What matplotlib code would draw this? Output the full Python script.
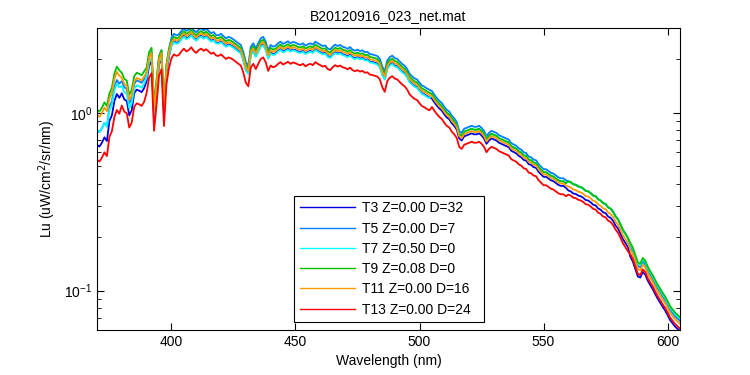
import numpy as np
import matplotlib
matplotlib.use("Agg")
import matplotlib.pyplot as plt

plt.rcParams['font.family'] = ['Liberation Sans', 'DejaVu Sans']

title = "B20120916_023_net.mat"
xlabel = "Wavelength (nm)"
ylabel = "Lu (uW/cm$^2$/sr/nm)"

# wavelength grid (nm), 1 nm steps
wavelength = np.arange(370, 606)

# reference spectrum (T11, orange)
base_t11 = [
    0.97, 0.95, 1.00, 1.07, 1.02, 1.20, 1.29, 1.55, 1.70, 1.62,   # 370-379
    1.57, 1.45, 1.42, 1.18, 1.26, 1.50, 1.57, 1.55, 1.52, 1.60,   # 380-389
    1.68, 2.05, 2.17, 1.03, 1.44, 2.00, 2.17, 1.04, 1.79, 2.20,   # 390-399
    2.47, 2.60, 2.55, 2.58, 2.70, 2.80, 2.70, 2.75, 2.85, 2.72,   # 400-409
    2.65, 2.75, 2.80, 2.72, 2.78, 2.70, 2.62, 2.66, 2.56, 2.55,   # 410-419
    2.60, 2.52, 2.45, 2.50, 2.47, 2.42, 2.36, 2.30, 2.25, 2.05,   # 420-429
    1.80, 1.72, 2.20, 2.30, 2.15, 2.30, 2.45, 2.50, 2.35, 2.10,   # 430-439
    2.25, 2.20, 2.23, 2.30, 2.35, 2.28, 2.32, 2.36, 2.30, 2.34,   # 440-449
    2.32, 2.28, 2.26, 2.30, 2.23, 2.27, 2.30, 2.26, 2.35, 2.30,   # 450-459
    2.26, 2.22, 2.24, 2.15, 2.12, 2.20, 2.26, 2.22, 2.25, 2.20,   # 460-469
    2.18, 2.14, 2.19, 2.12, 2.09, 2.12, 2.08, 2.10, 2.05, 2.06,   # 470-479
    2.00, 1.99, 1.97, 1.95, 1.88, 1.70, 1.60, 1.84, 1.92, 1.96,   # 480-489
    1.90, 1.88, 1.82, 1.76, 1.72, 1.65, 1.55, 1.50, 1.46, 1.44,   # 490-499
    1.38, 1.33, 1.31, 1.28, 1.26, 1.24, 1.18, 1.13, 1.09, 1.06,   # 500-509
    1.01, 0.97, 0.95, 0.90, 0.87, 0.83, 0.74, 0.72, 0.76, 0.77,   # 510-519
    0.78, 0.79, 0.78, 0.78, 0.79, 0.77, 0.74, 0.69, 0.72, 0.74,   # 520-529
    0.73, 0.72, 0.70, 0.69, 0.68, 0.67, 0.66, 0.63, 0.62, 0.61,   # 530-539
    0.59, 0.58, 0.56, 0.555, 0.53, 0.525, 0.51, 0.505, 0.48, 0.465,  # 540-549
    0.45, 0.45, 0.44, 0.43, 0.425, 0.415, 0.405, 0.40, 0.40, 0.39,   # 550-559
    0.385, 0.38, 0.37, 0.368, 0.36, 0.357, 0.35, 0.34, 0.338, 0.33, # 560-569
    0.32, 0.317, 0.305, 0.30, 0.29, 0.287, 0.275, 0.27, 0.26, 0.245, # 570-579
    0.235, 0.22, 0.205, 0.195, 0.185, 0.17, 0.16, 0.145, 0.132, 0.13, # 580-589
    0.14, 0.135, 0.125, 0.118, 0.112, 0.105, 0.099, 0.094, 0.089, 0.085, # 590-599
    0.080, 0.075, 0.072, 0.069, 0.067, 0.065,                      # 600-605
]

# per-series ratio to T11, one value per 5-nm block (370, 375, ..., 605)
ratio_t3 = [0.68, 0.75, 0.82, 0.86, 0.90, 0.94] + [0.97] * 21 + [0.97] * 11 + [0.95] * 5 + [0.91] * 5
ratio_t5 = [0.82, 0.90, 0.96, 0.97, 1.01, 1.03] + [1.07] * 21 + [1.07] * 11 + [1.07] * 5 + [1.04] * 5
ratio_t7 = [0.82, 0.86, 0.90, 0.91, 0.94, 0.96] + [0.96] * 21 + [1.03] * 11 + [1.07] * 5 + [1.07] * 5
ratio_t9 = [1.07, 1.07, 1.07, 1.07, 1.07, 1.04] + [1.03] * 21 + [1.03] * 11 + [1.07] * 5 + [1.09] * 5
ratio_t11 = [1.0] * 48
ratio_t13 = [0.56, 0.61, 0.70, 0.72, 0.77, 0.81] + [0.82] * 21 + [0.87] * 11 + [0.90] * 5 + [0.94] * 5

labels = ["T3 Z=0.00 D=32", "T5 Z=0.00 D=7", "T7 Z=0.50 D=0",
          "T9 Z=0.08 D=0", "T11 Z=0.00 D=16", "T13 Z=0.00 D=24"]
colors = ["#0000E0", "#0080FF", "#00FFFF", "#00C000", "#FF9900", "#FF0000"]
ratios = [ratio_t3, ratio_t5, ratio_t7, ratio_t9, ratio_t11, ratio_t13]

fig = plt.figure(figsize=(7.5, 3.75), dpi=100)
ax = fig.add_axes([97 / 750, 1 - 330 / 375, 583 / 750, 302 / 375])

base = np.array(base_t11)
for lab, col, r in zip(labels, colors, ratios):
    fac = np.repeat(np.array(r), 5)[:len(wavelength)]
    ax.plot(wavelength, base * fac, color=col, lw=1.3, label=lab)

ax.set_yscale('log')
ax.set_xlim(370, 605)
ax.set_ylim(0.06, 3.0)
ax.set_xticks([400, 450, 500, 550, 600])
ax.tick_params(which='both', direction='in', top=True, right=True, labelsize=10)
ax.tick_params(which='major', length=5)
ax.tick_params(which='minor', length=3)
ax.set_xlabel(xlabel, fontsize=10)
ax.set_ylabel(ylabel, fontsize=10)
ax.set_title(title, fontsize=10)

leg = ax.legend(loc='lower left', bbox_to_anchor=(0.338, 0.026, 0.326, 0.40),
                mode='expand', fontsize=10, frameon=True, fancybox=False,
                edgecolor='black', framealpha=1, borderaxespad=0,
                handlelength=4.0, handletextpad=0.5, labelspacing=0.45)
leg.get_frame().set_linewidth(0.8)
for h in leg.get_lines():
    h.set_linewidth(1.0)

fig.savefig("out.png", dpi=100)
